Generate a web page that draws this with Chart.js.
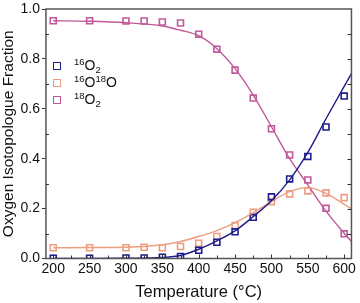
<!DOCTYPE html>
<html>
<head>
<meta charset="utf-8">
<script src="https://cdn.jsdelivr.net/npm/chart.js@4/dist/chart.umd.min.js"></script>
<style>
  html, body { margin: 0; padding: 0; background: #fff; }
  #wrap { position: relative; width: 360px; height: 303px; }
  #legend { position: absolute; left: 53px; top: 57px; font-family: "Liberation Sans", Arial, sans-serif; font-size: 14px; color: #111; }
  .row { height: 17px; line-height: 17px; display: flex; align-items: center; }
  .box { width: 6px; height: 6px; border: 1.5px solid; margin-right: 13px; }
  sup, sub { font-size: 9.5px; line-height: 0; }
  sup { vertical-align: 5px; }
  sub { vertical-align: -3px; }
</style>
</head>
<body>
<div id="wrap">
  <canvas id="chart" width="360" height="303"></canvas>
  <div id="legend">
    <div class="row"><span class="box" style="border-color:#1c1c8a"></span><span><sup>16</sup>O<sub>2</sub></span></div>
    <div class="row"><span class="box" style="border-color:#ee9e80"></span><span><sup>16</sup>O<sup>18</sup>O</span></div>
    <div class="row"><span class="box" style="border-color:#c0599a"></span><span><sup>18</sup>O<sub>2</sub></span></div>
  </div>
</div>
<script>
// measured points
const temps = [200, 250, 300, 325, 350, 375, 400, 425, 450, 475, 500, 525, 550, 575, 600];
const o16o16 = [0.001, 0.001, 0.002, 0.002, 0.005, 0.008, 0.033, 0.065, 0.107, 0.165, 0.247, 0.319, 0.409, 0.527, 0.651];
const o16o18 = [0.043, 0.043, 0.043, 0.045, 0.043, 0.048, 0.061, 0.088, 0.132, 0.185, 0.228, 0.259, 0.271, 0.263, 0.244];
const o18o18 = [0.953, 0.953, 0.952, 0.952, 0.948, 0.944, 0.899, 0.839, 0.755, 0.643, 0.52, 0.415, 0.315, 0.201, 0.099];

// fitted curves
const fitTemps = [200, 250, 300, 350, 375, 400, 425, 450, 475, 500, 525, 550, 575, 600, 610];
const fit16 = [0.0, 0.0, 0.001, 0.004, 0.012, 0.037, 0.071, 0.111, 0.168, 0.231, 0.315, 0.425, 0.56, 0.69, 0.741];
const fitMix = [0.043, 0.044, 0.045, 0.055, 0.068, 0.088, 0.112, 0.144, 0.184, 0.228, 0.268, 0.284, 0.261, 0.217, 0.199];
const fit18 = [0.953, 0.951, 0.945, 0.932, 0.915, 0.893, 0.841, 0.761, 0.655, 0.528, 0.4, 0.295, 0.19, 0.101, 0.068];

const xTicks = [200, 250, 300, 350, 400, 450, 500, 550, 600];
const yTicks = [0.0, 0.2, 0.4, 0.6, 0.8, 1.0];

const colors = { o16: '#1c1c8a', mix: '#ee9e80', o18: '#c0599a' };

function pts(xs, ys) {
    return xs.map((x, i) => ({ x: x, y: ys[i] }));
}

function markerSet(data, color) {
    return {
        data: pts(temps, data),
        showLine: false,
        pointStyle: 'rect',
        pointRadius: 4.2,
        borderColor: color,
        backgroundColor: 'rgba(255,255,255,0)',
        pointBorderWidth: 1.6
    };
}

function fitSet(data, color) {
    return {
        data: pts(fitTemps, data),
        showLine: true,
        pointRadius: 0,
        borderColor: color,
        borderWidth: 1.4,
        cubicInterpolationMode: 'monotone'
    };
}

// box around the plot plus the small inward ticks
const framePlugin = {
    id: 'frame',
    afterDraw(chart) {
        const { ctx, chartArea: a, scales } = chart;
        ctx.save();
        ctx.strokeStyle = '#555';
        ctx.lineWidth = 1.5;
        ctx.strokeRect(a.left, a.top, a.right - a.left, a.bottom - a.top);
        ctx.lineWidth = 1;
        ctx.strokeStyle = '#333';
        ctx.beginPath();
        for (let t = 200; t <= 600; t += 25) {
            const x = Math.round(scales.x.getPixelForValue(t)) + 0.5;
            ctx.moveTo(x, a.bottom); ctx.lineTo(x, a.bottom - (t % 50 === 0 ? 4 : 3));
        }
        for (let i = 1; i < 10; i++) {
            const y = Math.round(scales.y.getPixelForValue(i / 10)) + 0.5;
            ctx.moveTo(a.right, y); ctx.lineTo(a.right - 4, y);
            if (i % 2 === 1) { ctx.moveTo(a.left, y); ctx.lineTo(a.left + 3, y); }
        }
        ctx.stroke();
        ctx.restore();
    }
};

const font = { family: '"Liberation Sans", Arial, sans-serif', lineHeight: 1 };

new Chart(document.getElementById('chart'), {
    type: 'scatter',
    data: {
        datasets: [
            fitSet(fit16, colors.o16),
            fitSet(fitMix, colors.mix),
            fitSet(fit18, colors.o18),
            markerSet(o16o16, colors.o16),
            markerSet(o16o18, colors.mix),
            markerSet(o18o18, colors.o18)
        ]
    },
    options: {
        responsive: false,
        animation: false,
        layout: { padding: { top: 7, right: 5, bottom: 2, left: 1 } },
        plugins: { legend: { display: false }, tooltip: { enabled: false } },
        scales: {
            x: {
                type: 'linear',
                min: 190,
                max: 610,
                afterBuildTicks: s => { s.ticks = xTicks.map(v => ({ value: v })); },
                grid: { display: false, drawTicks: false },
                border: { display: false },
                ticks: { color: '#111', font: { ...font, size: 14 }, padding: 4, maxRotation: 0 },
                title: { display: true, text: 'Temperature (°C)', color: '#111', font: { ...font, size: 16.5 }, padding: { top: 4, bottom: 0 } }
            },
            y: {
                min: 0,
                max: 1,
                afterBuildTicks: s => { s.ticks = yTicks.map(v => ({ value: v })); },
                grid: { drawOnChartArea: false, tickLength: 4, color: '#333' },
                border: { display: false },
                ticks: { color: '#111', font: { ...font, size: 14 }, padding: 2, callback: v => v.toFixed(1) },
                title: { display: true, text: 'Oxygen Isotopologue Fraction', color: '#111', font: { ...font, size: 15.5 }, padding: { top: 0, bottom: 2 } }
            }
        }
    },
    plugins: [framePlugin]
});
</script>
</body>
</html>
